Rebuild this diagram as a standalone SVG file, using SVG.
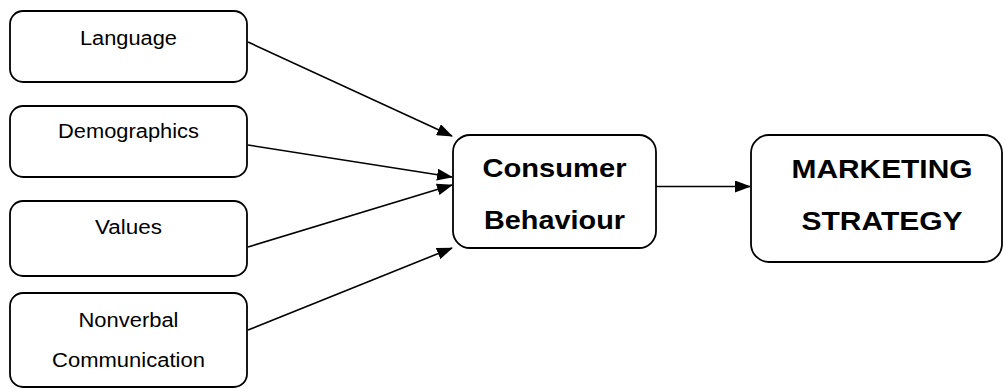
<svg xmlns="http://www.w3.org/2000/svg" width="1006" height="389" viewBox="0 0 1006 389">
<style>
.box{fill:#fff;stroke:#000;stroke-width:1.8}
.t{font-family:"Liberation Sans",Arial,sans-serif;font-size:19.5px;fill:#000;text-anchor:middle}
.b{font-family:"Liberation Sans",Arial,sans-serif;font-size:26px;font-weight:bold;fill:#000;text-anchor:middle}
.c{stroke:#000;stroke-width:1.6;fill:none;marker-end:url(#ah)}
</style>
<defs>
<marker id="ah" markerWidth="16" markerHeight="12" refX="15" refY="6" orient="auto" markerUnits="userSpaceOnUse">
<path d="M0,0 L16,6 L0,12 Z" fill="#000"/>
</marker>
</defs>
<rect width="1006" height="389" fill="#fff"/>
<g id="connectors">
<line class="c" x1="248" y1="42" x2="452" y2="136"/>
<line class="c" x1="248" y1="145" x2="452" y2="177"/>
<line class="c" x1="248" y1="247" x2="452" y2="185"/>
<line class="c" x1="248" y1="330" x2="452" y2="248"/>
<line class="c" x1="656" y1="186.5" x2="750" y2="186.5"/>
</g>
<g id="language">
<rect class="box" x="10" y="11" width="237" height="71" rx="13"/>
<text class="t" x="128.5" y="45" textLength="97" lengthAdjust="spacingAndGlyphs">Language</text>
</g>
<g id="demographics">
<rect class="box" x="10" y="106" width="237" height="71" rx="13"/>
<text class="t" x="128.5" y="138" textLength="141" lengthAdjust="spacingAndGlyphs">Demographics</text>
</g>
<g id="values">
<rect class="box" x="10" y="201" width="237" height="75" rx="13"/>
<text class="t" x="128.5" y="234" textLength="67" lengthAdjust="spacingAndGlyphs">Values</text>
</g>
<g id="nonverbal">
<rect class="box" x="10" y="293" width="237" height="94" rx="13"/>
<text class="t" x="128.5" y="327" textLength="100" lengthAdjust="spacingAndGlyphs">Nonverbal</text>
<text class="t" x="128.5" y="367" textLength="153" lengthAdjust="spacingAndGlyphs">Communication</text>
</g>
<g id="consumer">
<rect class="box" x="453" y="135" width="203" height="113" rx="17"/>
<text class="b" x="554.5" y="177" textLength="144" lengthAdjust="spacingAndGlyphs">Consumer</text>
<text class="b" x="554.5" y="229" textLength="141" lengthAdjust="spacingAndGlyphs">Behaviour</text>
</g>
<g id="marketing">
<rect class="box" x="751" y="135" width="251" height="127" rx="18"/>
<text class="b" x="882" y="178" textLength="181" lengthAdjust="spacingAndGlyphs">MARKETING</text>
<text class="b" x="882" y="230" textLength="161" lengthAdjust="spacingAndGlyphs">STRATEGY</text>
</g>
</svg>
